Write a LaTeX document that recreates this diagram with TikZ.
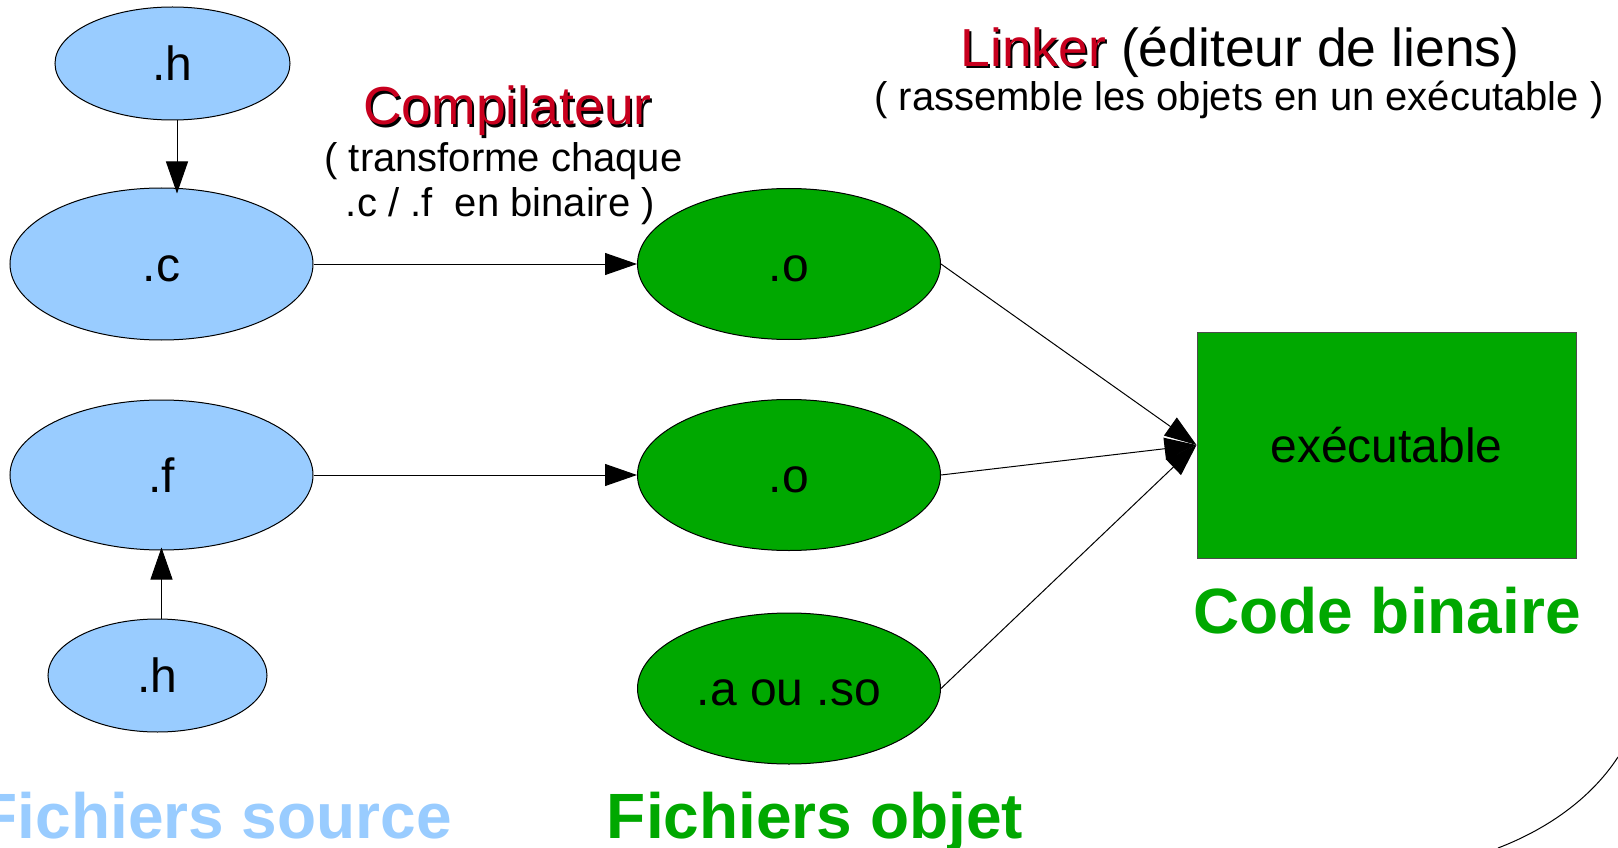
\documentclass[tikz,border=0pt]{standalone}
\usepackage{fontspec}
\setmainfont{Liberation Sans}
\usetikzlibrary{arrows.meta,shapes.geometric}
\definecolor{bleu}{RGB}{153,204,255}
\definecolor{vert}{RGB}{0,168,0}
\definecolor{rouge}{RGB}{200,0,30}
\newcommand{\ombre}[1]{\makebox[0pt][l]{\hspace{2pt}\raisebox{-2pt}{\color{black}#1}}\textcolor{rouge}{#1}}
\tikzset{
    fichier/.style={ellipse,draw=black,line width=1pt,inner sep=0pt,
        text height=34pt,text depth=0pt,font=\fontsize{48}{56}\selectfont},
    source/.style={fichier,fill=bleu},
    objet/.style={fichier,fill=vert,minimum width=303pt,minimum height=151pt},
    fleche/.style={-{Triangle[length=32pt,width=22pt]},line width=1pt},
    titre/.style={inner sep=0pt,font=\fontsize{64}{72}\selectfont\bfseries},
    etape/.style={inner sep=0pt,anchor=base,font=\fontsize{53.5}{60}\selectfont},
    soustitre/.style={inner sep=0pt,anchor=base,font=\fontsize{40}{45}\selectfont},
}
\begin{document}
\begin{tikzpicture}[x=1pt,y=-1pt]
        \useasboundingbox (0,0) rectangle (1618,848);
        \clip (0,0) rectangle (1618,848);
        \node[source,minimum width=235pt,minimum height=113pt] (h1) at (172.5,63.5) {.h};
        \node[source,minimum width=303pt,minimum height=152pt] (c1) at (161.5,264) {.c};
        \node[source,minimum width=303pt,minimum height=150pt] (f1) at (161.5,475) {.f};
        \node[source,minimum width=219pt,minimum height=113pt] (h2) at (157.5,675.5) {.h};
        \node[objet] (o1) at (789,264) {.o};
        \node[objet] (o2) at (789,475) {.o};
        \node[objet] (a1) at (789,688.5) {.a ou .so};
        \node[rectangle,draw=black!70,fill=vert,line width=1pt,minimum width=379pt,minimum height=226pt,
            font=\fontsize{48}{56}\selectfont,text height=34pt,text depth=0pt] (exe) at (1386.5,445) {exécutable};
        % titres
        \node[etape] (comp) at (507.5,125) {\ombre{Compilateur}};
        \node[soustitre] (comp1) at (503.5,171.5) {( transforme chaque};
        \node[soustitre] (comp2) at (500.5,216.5) {.c / .f\ \ en binaire )};
        \node[etape] (link) at (1240,67) {\ombre{Linker} (éditeur de liens)};
        \node[soustitre] (link1) at (1239,111) {( rassemble les objets en un exécutable )};
        \node[titre,text=bleu,anchor=base east] (tsrc) at (452,838) {Fichiers source};
        \node[titre,text=vert,anchor=base] (tobj) at (815,838) {Fichiers objet};
        \node[titre,text=vert,anchor=base] (tbin) at (1387,633) {Code binaire};
        \draw[fleche] ([xshift=4.5pt]h1.south) -- ([xshift=4.5pt,yshift=-6pt]h1.south |- c1.north);
        \draw[fleche] (f1.south |- h2.north) -- ([yshift=3pt]f1.south);
        \draw[fleche] (c1) -- (o1);
        \draw[fleche] (f1) -- (o2);
        \draw[fleche] (o1.east) -- (exe.west);
        \draw[fleche] (o2.east) -- (exe.west);
        \draw[fleche] (a1.east) -- (exe.west);
        \draw[line width=1pt] (1498,848) .. controls (1545,830) and (1590,800) .. (1618,757);
    \end{tikzpicture}
\end{document}
